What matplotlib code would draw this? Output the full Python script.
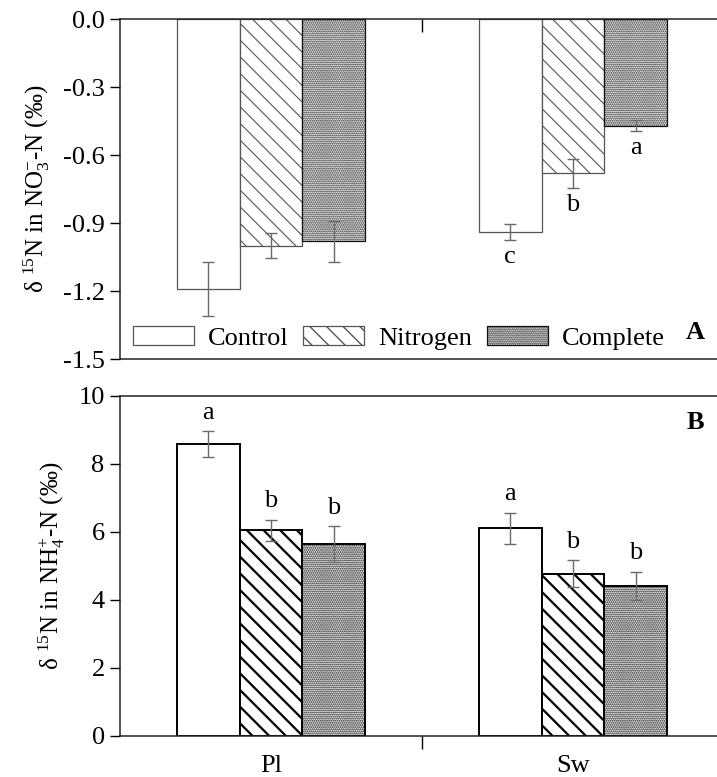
import numpy as np
import matplotlib
matplotlib.use("Agg")
import matplotlib.pyplot as plt
from matplotlib.patches import Patch

plt.rcParams['font.family'] = ['Liberation Serif', 'DejaVu Serif']
plt.rcParams['mathtext.fontset'] = 'custom'
plt.rcParams['mathtext.rm'] = 'Liberation Serif'
plt.rcParams['mathtext.it'] = 'Liberation Serif:italic'
plt.rcParams['font.size'] = 19

sites = ["Pl", "Sw"]
treatments = ["Control", "Nitrogen", "Complete"]

# delta 15N in NO3-N
no3_mean = [[-1.19, -1.00, -0.98], [-0.94, -0.68, -0.47]]
no3_err = [[0.12, 0.055, 0.09], [0.037, 0.064, 0.025]]
no3_letters = [["", "", ""], ["c", "b", "a"]]

# delta 15N in NH4-N
nh4_mean = [[8.59, 6.05, 5.65], [6.11, 4.77, 4.41]]
nh4_err = [[0.37, 0.31, 0.52], [0.46, 0.40, 0.41]]
nh4_letters = [["a", "b", "b"], ["a", "b", "b"]]

W, H = 717, 777
fig = plt.figure(figsize=(W / 100, H / 100), dpi=100)

def ax_rect(left, right, top, bottom):
    return [left / W, 1 - bottom / H, (right - left) / W, (bottom - top) / H]

ax1 = fig.add_axes(ax_rect(120, 724, 19, 359))
ax2 = fig.add_axes(ax_rect(120, 724, 396, 736))

width = 0.208
offsets = [-width, 0, width]
hatches = [None, '\\\\', '........']
centers = np.arange(1, len(sites) + 1)

def draw_panel(ax, means, errs, letters, edges, lw, hatch_lws, gap, below):
    handles = []
    for j, name in enumerate(treatments):
        vals = [means[i][j] for i in range(len(sites))]
        es = [errs[i][j] for i in range(len(sites))]
        bars = ax.bar(centers + offsets[j], vals, width, color='white',
                      edgecolor=edges[j], linewidth=lw, hatch=hatches[j],
                      zorder=2)
        for b in bars:
            b.set_hatch_linewidth(hatch_lws[j])
        ax.errorbar(centers + offsets[j], vals, yerr=es, fmt='none',
                    ecolor='#6a6a6a', elinewidth=1.0, capsize=4,
                    capthick=1.0, zorder=3)
        for i in range(len(sites)):
            if letters[i][j]:
                if below:
                    y = vals[i] - es[i] - gap
                else:
                    y = vals[i] + es[i] + gap
                ax.text(centers[i] + offsets[j], y, letters[i][j],
                        ha='center', va='center', fontsize=19)
        p = Patch(facecolor='white', edgecolor=edges[j], linewidth=lw,
                  hatch=hatches[j], label=name)
        p.set_hatch_linewidth(hatch_lws[j])
        handles.append(p)
    return handles

handles = draw_panel(ax1, no3_mean, no3_err, no3_letters,
                     ['#555555', '#555555', '#111111'], 0.9,
                     [0.8, 0.8, 0.9], 0.075, True)
draw_panel(ax2, nh4_mean, nh4_err, nh4_letters,
           ['black', 'black', 'black'], 1.4, [1.6, 1.6, 0.9], 0.55, False)

for ax in (ax1, ax2):
    ax.set_xlim(0.5, 2.5)
    for s in ax.spines.values():
        s.set_linewidth(1.1)
        s.set_color('#222222')
    ax.tick_params(axis='y', direction='out', length=7, width=1.0, pad=4,
                   labelsize=19)

ax1.set_ylim(-1.5, 0)
ax1.set_yticks(np.arange(-1.5, 0.01, 0.3))
ax1.set_yticklabels([f"{v:.1f}" for v in np.arange(-1.5, 0.01, 0.3)])
ax1.xaxis.tick_top()
ax1.set_xticks([1.5])
ax1.set_xticklabels([])
ax1.tick_params(axis='x', direction='in', length=9, width=1.0)
ax1.set_ylabel('δ $^{15}$N in NO$_3^{-}$-N (‰)', fontsize=18, labelpad=8)

ax2.set_ylim(0, 10)
ax2.set_yticks(np.arange(0, 11, 2))
ax2.set_xticks([1.5])
ax2.set_xticklabels([])
ax2.set_xticks(centers, minor=True)
ax2.set_xticklabels(sites, minor=True)
ax2.tick_params(axis='x', which='major', direction='out', length=9, width=1.0)
ax2.tick_params(axis='x', which='minor', length=0, pad=14, labelsize=19)
ax2.set_ylabel('δ $^{15}$N in NH$_4^{+}$-N (‰)', fontsize=18, labelpad=8)

ax1.legend(handles=handles, loc='center left',
           bbox_to_anchor=(0.0215, 0.062), ncol=3, frameon=False,
           handlelength=2.3, handleheight=0.7, handletextpad=0.55,
           columnspacing=0.55, borderpad=0, borderaxespad=0, fontsize=19)

ax1.text(0.952, 0.079, 'A', transform=ax1.transAxes, ha='center',
         va='center', fontweight='bold', fontsize=19)
ax2.text(0.952, 0.9206, 'B', transform=ax2.transAxes, ha='center',
         va='center', fontweight='bold', fontsize=19)

fig.savefig("out.png", dpi=100)
